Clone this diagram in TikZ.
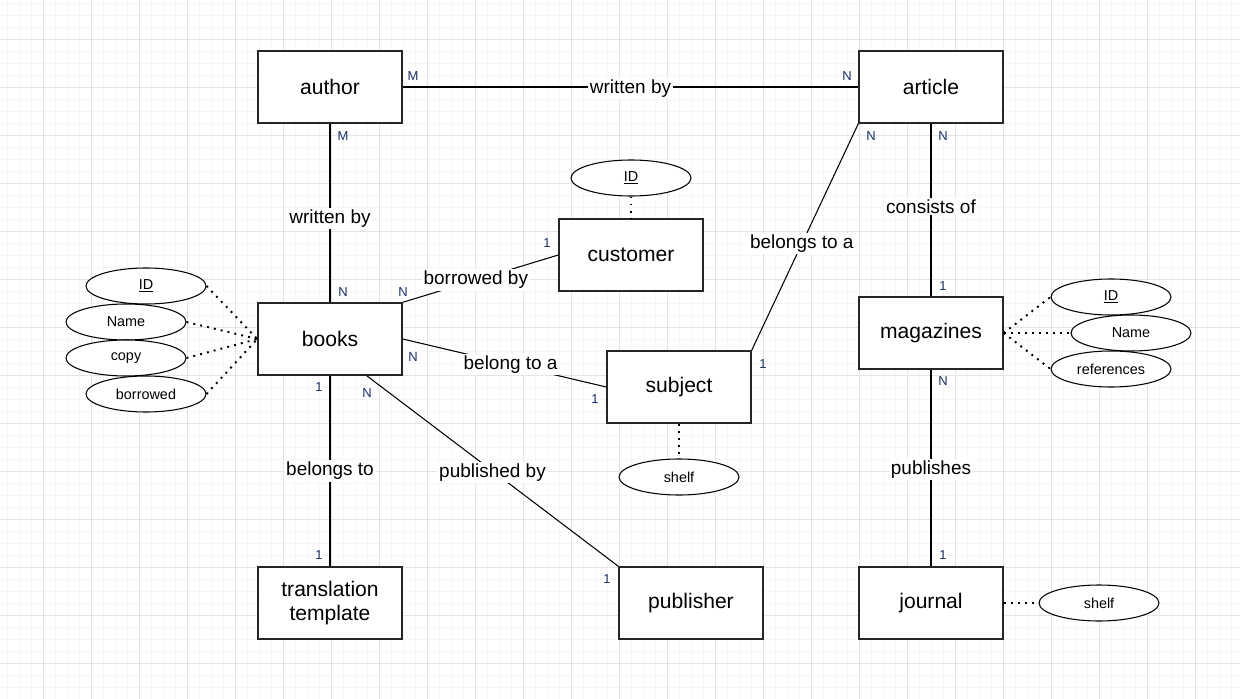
\documentclass[tikz,border=0pt]{standalone}
\usepackage{fontspec}
\setmainfont{Liberation Sans}
\usetikzlibrary{shapes.geometric}
\definecolor{gridminor}{HTML}{F6F6F6}
\definecolor{gridmajor}{HTML}{E4E4E4}
\definecolor{cardblue}{HTML}{1C2F66}
\tikzset{
  entity/.style={draw=black!85, fill=white, line width=0.8pt, minimum width=2.88cm,
    minimum height=1.44cm, align=center, font=\fontsize{12}{13.7}\selectfont},
  attrib/.style={ellipse, draw=black, fill=white, line width=0.6pt, minimum width=2.4cm,
    minimum height=0.72cm, inner sep=0pt, font=\fontsize{8.2}{9}\selectfont},
  rel/.style={fill=white, inner sep=1pt, font=\fontsize{10.8}{12}\selectfont},
  card/.style={text=cardblue, inner sep=0pt, font=\fontsize{7.4}{8}\selectfont},
  attline/.style={line width=1.1pt, dash pattern=on 1.1pt off 2.9pt},
}
\begin{document}
\begin{tikzpicture}[x=0.02cm, y=-0.02cm]
  \useasboundingbox (0,0) rectangle (1240,699);
  % grid
  \fill[white] (0,0) rectangle (1240,699);
  \foreach \x in {7,19,...,1240} \draw[gridminor, line width=0.4pt] (\x,0) -- (\x,699);
  \foreach \y in {3,15,...,699} \draw[gridminor, line width=0.4pt] (0,\y) -- (1240,\y);
  \foreach \x in {43,91,...,1240} \draw[gridmajor, line width=0.5pt] (\x,0) -- (\x,699);
  \foreach \y in {39,87,...,699} \draw[gridmajor, line width=0.5pt] (0,\y) -- (1240,\y);

  % entities
  \node[entity] (author) at (330,87) {author};
  \node[entity] (article) at (931,87) {article};
  \node[entity] (customer) at (631,255) {customer};
  \node[entity] (books) at (330,339) {books};
  \node[entity] (magazines) at (931,333) {magazines};
  \node[entity] (subject) at (679,387) {subject};
  \node[entity] (translation) at (330,603) {translation\\template};
  \node[entity] (publisher) at (691,603) {publisher};
  \node[entity] (journal) at (931,603) {journal};

  % attributes
  \node[attrib] (bookid) at (146,286) {\underline{ID}};
  \node[attrib] (bookname) at (126,322) {Name};
  \node[attrib] (bookcopy) at (126,358) {copy};
  \node[attrib] (bookborrowed) at (146,394) {borrowed};
  \node[attrib] (custid) at (631,178) {\underline{ID}};
  \node[attrib] (subjshelf) at (679,477) {shelf};
  \node[attrib] (magid) at (1111,297) {\underline{ID}};
  \node[attrib] (magname) at (1131,333) {Name};
  \node[attrib] (magrefs) at (1111,369) {references};
  \node[attrib] (jourshelf) at (1099,603) {shelf};

  \begin{scope}[attline]
    \draw (bookid.east) -- (books.west);
    \draw (bookname.east) -- (books.west);
    \draw (bookcopy.east) -- (books.west);
    \draw (bookborrowed.east) -- (books.west);
    \draw (custid.south) -- (customer.north);
    \draw (subject.south) -- (subjshelf.north);
    \draw (magazines.east) -- (magid.west);
    \draw (magazines.east) -- (magname.west);
    \draw (magazines.east) -- (magrefs.west);
    \draw (journal.east) -- (jourshelf.west);
  \end{scope}

  % relationships
  \begin{scope}[line width=0.6pt]
    \draw (author.east) -- node[rel, yshift=-1pt] (r1) {written by} (article.west);
    \draw (author.south) -- node[rel, pos=0.53] (r2) {written by} (books.north);
    \draw (books.north east) -- node[rel, pos=0.47] (r3) {borrowed by} (customer.west);
    \draw (books.east) -- node[rel, pos=0.53] (r4) {belong to a} (subject.west);
    \draw (article.south west) -- node[rel, pos=0.53] (r5) {belongs to a} (subject.north east);
    \draw (article.south) -- node[rel, pos=0.48] (r6) {consists of} (magazines.north);
    \draw (magazines.south) -- node[rel, yshift=-1pt] (r7) {publishes} (journal.north);
    \draw (books.south) -- node[rel] (r8) {belongs to} (translation.north);
    \draw (books.-45) -- node[rel, yshift=-1pt] (r9) {published by} (publisher.north west);
  \end{scope}

  % cardinalities
  \node[card] (c1) at (413,76) {M};
  \node[card] (c2) at (847,76) {N};
  \node[card] (c3) at (343,136) {M};
  \node[card] (c4) at (343,292) {N};
  \node[card] (c5) at (403,292) {N};
  \node[card] (c6) at (547,243) {1};
  \node[card] (c7) at (413,357) {N};
  \node[card] (c8) at (595,399) {1};
  \node[card] (c9) at (871,136) {N};
  \node[card] (c10) at (943,136) {N};
  \node[card] (c11) at (763,364) {1};
  \node[card] (c12) at (943,286) {1};
  \node[card] (c13) at (943,381) {N};
  \node[card] (c14) at (943,555) {1};
  \node[card] (c15) at (319,387) {1};
  \node[card] (c16) at (319,555) {1};
  \node[card] (c17) at (367,393) {N};
  \node[card] (c18) at (607,579) {1};
\end{tikzpicture}
\end{document}
